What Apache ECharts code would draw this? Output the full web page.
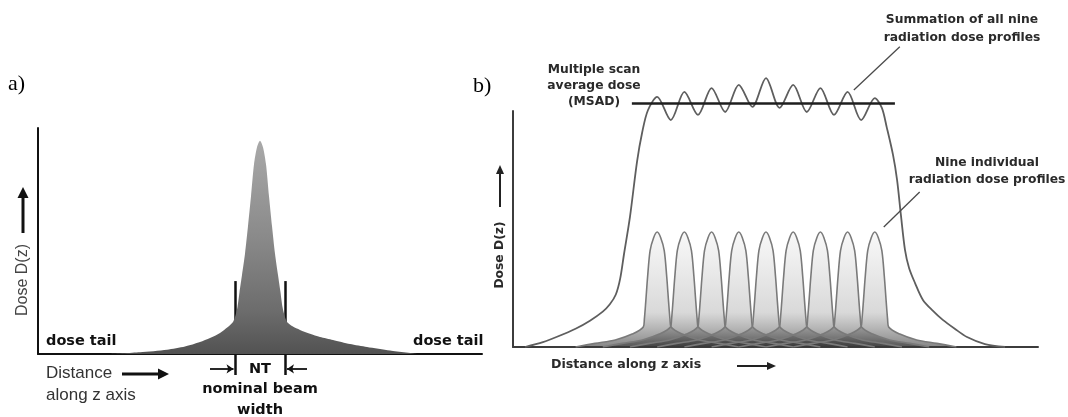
<!DOCTYPE html>
<html>
<head>
<meta charset="utf-8">
<script src="https://cdn.jsdelivr.net/npm/echarts@6/dist/echarts.min.js"></script>
<style>
  html, body { margin: 0; padding: 0; background: #fff; }
  #chart { width: 1068px; height: 417px; }
</style>
</head>
<body>
<div id="chart"></div>
<script>
// ---- Panel a: dose profile of a single rotation (z in mm, NT = 10 mm; dose relative to peak)
const singleZ    = [-30, -24, -18.6, -15, -12, -10, -8, -6.5, -5.4, -4.9, -4.5, -4.1, -3.6, -3.0, -2.4, -1.8, -1.2, -0.6, 0,
                    0.6, 1.2, 1.8, 2.4, 3.0, 3.6, 4.1, 4.5, 4.9, 5.4, 6.5, 8, 10, 12, 14.6, 18, 21.4, 26, 31.4];
const singleDose = [0, 0.008, 0.02, 0.035, 0.056, 0.075, 0.099, 0.125, 0.15, 0.18, 0.22, 0.29, 0.37, 0.47, 0.6, 0.74, 0.89, 0.97, 1.0,
                    0.97, 0.89, 0.74, 0.6, 0.47, 0.37, 0.29, 0.22, 0.18, 0.15, 0.13, 0.113, 0.095, 0.08, 0.066, 0.047, 0.033, 0.016, 0];
const ntEdges = [-5, 5];

// ---- Panel b: nine contiguous rotations (dose relative to MSAD)
const scanCenters   = [-40, -30, -20, -10, 0, 10, 20, 30, 40];
const profileOffset = [-30, -22.8, -15.4, -9.2, -5.1, -4.7, -4.2, -3.5, -2.6, -1.3, 0, 1.3, 2.6, 3.5, 4.2, 4.7, 5.1, 9.2, 15.4, 22.8, 30];
const profileDose   = [0, 0.015, 0.029, 0.053, 0.082, 0.115, 0.185, 0.29, 0.395, 0.448, 0.471, 0.448, 0.395, 0.29, 0.185, 0.115, 0.082, 0.053, 0.029, 0.015, 0];

const sumZ    = [-88.6, -82, -76.8, -70, -64.7, -60, -57.4, -55.2, -53.6, -52.2, -50, -47.4, -45.5, -43.4,
                 -40, -35, -30, -25, -20, -15, -10, -5, 0, 5, 10, 15, 20, 25, 30, 35, 40,
                 42.6, 44.4, 46.7, 48.2, 49.6, 51.1, 52.6, 54.8, 57.7, 61.4, 65, 69.5, 73.9, 80.5, 87.9];
const sumDose = [0, 0.02, 0.042, 0.075, 0.108, 0.145, 0.175, 0.215, 0.28, 0.38, 0.533, 0.76, 0.88, 0.97,
                 1.025, 0.93, 1.045, 0.951, 1.061, 0.963, 1.074, 0.984, 1.102, 0.98, 1.074, 0.963, 1.061, 0.951, 1.045, 0.93, 1.02,
                 0.98, 0.9, 0.787, 0.684, 0.541, 0.398, 0.324, 0.262, 0.193, 0.148, 0.111, 0.074, 0.041, 0.012, 0];
const msadLevel  = 1.0;
const msadExtent = [-49.3, 47.4];

const zip = (xs, ys) => xs.map((x, i) => [x, ys[i]]);
const grad = (stops) => new echarts.graphic.LinearGradient(0, 0, 0, 1, stops);

const hiddenAxis = (extra) => Object.assign({
  type: 'value',
  axisTick: { show: false },
  axisLabel: { show: false },
  splitLine: { show: false }
}, extra);

const boldFont = (px) => 'bold ' + px + 'px "DejaVu Sans"';

const series = [];

// single rotation profile
series.push({
  type: 'line', xAxisIndex: 0, yAxisIndex: 0,
  data: zip(singleZ, singleDose),
  smooth: 0.25, symbol: 'none', silent: true,
  lineStyle: { width: 0 },
  areaStyle: {
    opacity: 1,
    color: grad([
      { offset: 0, color: '#a9a9a9' },
      { offset: 0.45, color: '#8a8a8a' },
      { offset: 0.8, color: '#6c6c6c' },
      { offset: 1, color: '#525252' }
    ])
  }
});

// NT edge markers and arrows
series.push({
  type: 'lines', coordinateSystem: 'cartesian2d', xAxisIndex: 0, yAxisIndex: 0,
  clip: false, silent: true,
  lineStyle: { color: '#111', width: 2.5, opacity: 1 },
  data: ntEdges.map(z => ({ coords: [[z, 0.342], [z, -0.0985]] }))
});
series.push({
  type: 'lines', coordinateSystem: 'cartesian2d', xAxisIndex: 0, yAxisIndex: 0,
  clip: false, silent: true,
  symbol: ['none', 'arrow'], symbolSize: 7,
  lineStyle: { color: '#111', width: 1.8, opacity: 1 },
  data: [
    { coords: [[-10, -0.07], [ntEdges[0] - 0.3, -0.07]] },
    { coords: [[9.4, -0.07], [ntEdges[1] + 0.4, -0.07]] }
  ]
});

// summation of the nine profiles
series.push({
  type: 'line', xAxisIndex: 1, yAxisIndex: 1,
  data: zip(sumZ, sumDose),
  smooth: 0.3, symbol: 'none', clip: false, silent: true,
  lineStyle: { color: '#5e5e5e', width: 1.8 },
  z: 3
});

// nine individual rotation profiles
scanCenters.forEach((c) => {
  series.push({
    type: 'line', xAxisIndex: 1, yAxisIndex: 1,
    data: zip(profileOffset.map(o => o + c), profileDose),
    smooth: 0.3, symbol: 'none', silent: true,
    lineStyle: { color: '#7a7a7a', width: 1.6 },
    areaStyle: {
      opacity: 1,
      color: grad([
        { offset: 0, color: 'rgba(242,242,242,0.5)' },
        { offset: 0.7, color: 'rgba(185,185,185,0.55)' },
        { offset: 1, color: 'rgba(55,55,55,0.6)' }
      ])
    },
    z: 2
  });
});

// MSAD level
series.push({
  type: 'lines', coordinateSystem: 'cartesian2d', xAxisIndex: 1, yAxisIndex: 1,
  clip: false, silent: true,
  lineStyle: { color: '#1e1e1e', width: 2.5, opacity: 1 },
  data: [{ coords: [[msadExtent[0], msadLevel], [msadExtent[1], msadLevel]] }],
  z: 4
});

// leader lines for the annotations
series.push({
  type: 'lines', coordinateSystem: 'cartesian2d', xAxisIndex: 1, yAxisIndex: 1,
  clip: false, silent: true,
  lineStyle: { color: '#4a4a4a', width: 1.3, opacity: 1 },
  data: [
    { coords: [[49.2, 1.23], [32.3, 1.053]] },
    { coords: [[56.5, 0.635], [43.3, 0.492]] }
  ],
  z: 4
});

const txt = (text, x, y, font, fill, align, extra) => Object.assign({
  type: 'text', x: x, y: y, silent: true,
  style: { text: text, font: font, fill: fill, align: align || 'left', verticalAlign: 'middle' }
}, extra || {});

const graphic = [
  // panel a
  txt('a)', 8, 84, '22px "Liberation Serif"', '#000'),
  txt('Dose D(z)', 23, 280, '16px "Liberation Sans"', '#444', 'center', { rotation: Math.PI / 2 }),
  { type: 'line', silent: true, shape: { x1: 23, y1: 233, x2: 23, y2: 196 }, style: { stroke: '#111', lineWidth: 3 } },
  { type: 'polygon', silent: true, shape: { points: [[17.5, 198], [28.5, 198], [23, 187]] }, style: { fill: '#111' } },
  txt('dose tail', 46, 341, boldFont(14.5), '#111'),
  txt('dose tail', 413, 341, boldFont(14.5), '#111'),
  txt('Distance', 46, 373, '17px "Liberation Sans"', '#333'),
  txt('along z axis', 46, 395, '17px "Liberation Sans"', '#333'),
  { type: 'line', silent: true, shape: { x1: 122, y1: 374, x2: 160, y2: 374 }, style: { stroke: '#111', lineWidth: 3 } },
  { type: 'polygon', silent: true, shape: { points: [[158, 368.5], [158, 379.5], [169, 374]] }, style: { fill: '#111' } },
  txt('NT', 260, 369, boldFont(14.5), '#111', 'center'),
  txt('nominal beam', 260, 389, boldFont(14.5), '#111', 'center'),
  txt('width', 260, 410, boldFont(14.5), '#111', 'center'),

  // panel b
  txt('b)', 473, 86, '22px "Liberation Serif"', '#000'),
  txt('Multiple scan', 594, 70, boldFont(12.3), '#2a2a2a', 'center'),
  txt('average dose', 594, 86, boldFont(12.3), '#2a2a2a', 'center'),
  txt('(MSAD)', 594, 102, boldFont(12.3), '#2a2a2a', 'center'),
  txt('Summation of all nine', 962, 20, boldFont(12.3), '#2a2a2a', 'center'),
  txt('radiation dose profiles', 962, 37.5, boldFont(12.3), '#2a2a2a', 'center'),
  txt('Nine individual', 987, 163, boldFont(12.3), '#2a2a2a', 'center'),
  txt('radiation dose profiles', 987, 180, boldFont(12.3), '#2a2a2a', 'center'),
  txt('Dose D(z)', 500, 255, boldFont(12.3), '#2a2a2a', 'center', { rotation: Math.PI / 2 }),
  { type: 'line', silent: true, shape: { x1: 500, y1: 207, x2: 500, y2: 172 }, style: { stroke: '#222', lineWidth: 2 } },
  { type: 'polygon', silent: true, shape: { points: [[496, 174], [504, 174], [500, 165]] }, style: { fill: '#222' } },
  txt('Distance along z axis', 551, 365, boldFont(12.6), '#2a2a2a'),
  { type: 'line', silent: true, shape: { x1: 737, y1: 366, x2: 768, y2: 366 }, style: { stroke: '#222', lineWidth: 2 } },
  { type: 'polygon', silent: true, shape: { points: [[767, 362], [767, 370], [776, 366]] }, style: { fill: '#222' } }
];

const chart = echarts.init(document.getElementById('chart'), null, { renderer: 'canvas' });
chart.setOption({
  animation: false,
  backgroundColor: '#fff',
  grid: [
    { left: 38, top: 128, width: 444, height: 226 },
    { left: 513, top: 111, width: 525, height: 236 }
  ],
  xAxis: [
    hiddenAxis({ gridIndex: 0, min: -44.4, max: 44.4, axisLine: { onZero: false, lineStyle: { color: '#111', width: 2 } } }),
    hiddenAxis({ gridIndex: 1, min: -93, max: 100, axisLine: { onZero: false, lineStyle: { color: '#3c3c3c', width: 2 } } })
  ],
  yAxis: [
    hiddenAxis({ gridIndex: 0, min: 0, max: 1.06, axisLine: { onZero: false, lineStyle: { color: '#111', width: 2 } } }),
    hiddenAxis({ gridIndex: 1, min: 0, max: 0.967, axisLine: { onZero: false, lineStyle: { color: '#3c3c3c', width: 2 } } })
  ],
  series: series,
  graphic: graphic
});
</script>
</body>
</html>
